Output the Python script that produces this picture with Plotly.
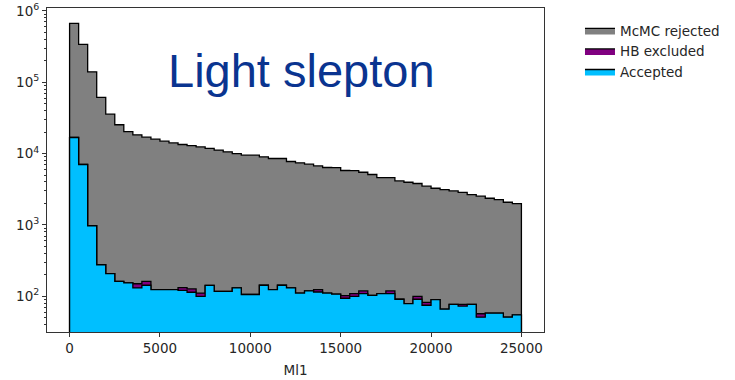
import numpy as np
import plotly.graph_objects as go

# ---- data (histogram bins of width 500 from 0 to 25000) ----
bin_edges = np.arange(0, 25001, 500)

accepted = [16800, 7030, 975, 277, 208, 162, 154, 131, 143, 124,
            124, 124, 121, 114, 100, 142, 117, 117, 131, 106,
            106, 143, 124, 143, 131, 111, 119, 115, 111, 107,
            94, 100, 109, 103, 109, 109, 91, 79, 91, 75,
            90, 66, 77, 73, 77, 51, 58, 58, 51, 55]

hb_excluded = [0, 0, 0, 0, 0, 0, 0, 19, 19, 0,
               0, 0, 11, 13, 11, 0, 0, 0, 0, 0,
               0, 0, 0, 0, 0, 0, 0, 9, 0, 0,
               8, 9, 10, 0, 0, 10, 0, 0, 9, 7.5,
               0, 0, 0, 4, 0, 6, 0, 0, 0, 0]

mcmc_rejected = [653000, 333000, 139000, 60900, 35500, 25200, 20150, 18150, 16840, 15780,
                 14780, 13980, 13270, 12770, 12290, 11660, 11080, 10480, 9870, 9390,
                 9390, 8860, 8410, 8390, 7610, 7300, 6980, 6600, 6270, 6270,
                 5690, 5680, 5360, 4990, 4510, 4500, 4050, 3890, 3710, 3410,
                 3180, 3070, 2920, 2790, 2590, 2470, 2310, 2210, 2030, 1935]

series_names = ["McMC rejected", "HB excluded", "Accepted"]
series_colors = ["#808080", "#800080", "#00BFFF"]

x_ticks = [0, 5000, 10000, 15000, 20000, 25000]
y_decades = [2, 3, 4, 5, 6]
x_title = "Ml1"
label_text = "Light slepton"

# ---- cumulative stacks ----
acc = np.array(accepted, dtype=float)
hb = np.array(hb_excluded, dtype=float)
rej = np.array(mcmc_rejected, dtype=float)
stacks = [acc + hb + rej, acc + hb, acc]

base = 1.0  # below visible range on the log axis

fig = go.Figure()
for name, color, upper in zip(series_names, series_colors, stacks):
    xs = [bin_edges[0]] + list(bin_edges) + [bin_edges[-1]]
    ys = [base] + list(upper) + [upper[-1]] + [base]
    fig.add_trace(go.Scatter(
        x=xs, y=ys, mode="lines", line=dict(shape="hv", color="black", width=1.3),
        fill="toself", fillcolor=color, name=name, hoverinfo="skip",
    ))

fig.add_annotation(
    text=label_text, xref="paper", yref="paper", x=0.2394, y=0.808,
    xanchor="left", yanchor="middle", showarrow=False,
    font=dict(family="Liberation Sans, Arial", size=47, color="#0A3490"),
)

minor_vals = [m * 10 ** d for d in range(1, 7) for m in range(2, 10)]

font_main = dict(family="DejaVu Sans", size=13.5, color="#262626")

fig.update_layout(
    width=735, height=380,
    margin=dict(l=47, r=191, t=8, b=48, autoexpand=False),
    paper_bgcolor="white", plot_bgcolor="white",
    font=font_main,
    showlegend=True,
    legend=dict(x=1.0724, y=0.978, xanchor="left", yanchor="top",
                font=dict(family="DejaVu Sans", size=13.5, color="#262626"),
                bgcolor="rgba(0,0,0,0)", tracegroupgap=0, itemwidth=30),
)
fig.update_xaxes(
    range=[-1250, 26250], tickvals=x_ticks, ticktext=[str(v) for v in x_ticks],
    showgrid=False, zeroline=False, showline=True, mirror=True, automargin=False,
    linecolor="#333333", linewidth=1, ticks="outside", ticklen=4, tickcolor="#333333",
    title=dict(text=x_title, standoff=10, font=font_main),
)
fig.update_yaxes(
    type="log", range=[1.5, 6.04], automargin=False,
    tickvals=[10 ** d for d in y_decades],
    ticktext=["10<sup>%d</sup>" % d for d in y_decades],
    showgrid=False, zeroline=False, showline=True, mirror=True,
    linecolor="#333333", linewidth=1, ticks="outside", ticklen=4, tickcolor="#333333",
    minor=dict(tickmode="array", tickvals=minor_vals, ticks="outside", ticklen=2,
               tickcolor="#333333", showgrid=False),
)

fig.write_html("out.html")
